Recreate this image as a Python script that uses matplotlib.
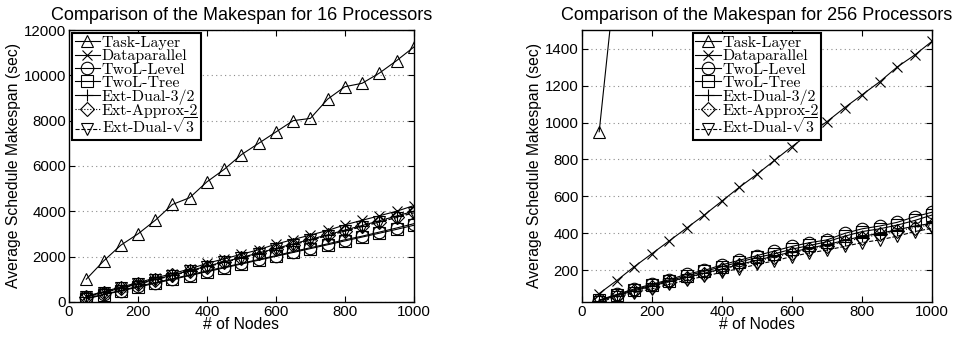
import numpy as np
import matplotlib
matplotlib.use('Agg')
import matplotlib.pyplot as plt

# number of nodes
nodes = [50, 100, 150, 200, 250, 300, 350, 400, 450, 500,
         550, 600, 650, 700, 750, 800, 850, 900, 950, 1000]

labels = ['Task-Layer', 'Dataparallel', 'TwoL-Level', 'TwoL-Tree',
          'Ext-Dual-3/2', 'Ext-Approx-2', r'Ext-Dual-$\sqrt{3}$']

# ===================== 16 processors =====================
task16 = [1000, 1800, 2500, 3000, 3600, 4300, 4600, 5300, 5850, 6500,
          7000, 7500, 8000, 8100, 8950, 9500, 9650, 10100, 10650, 11250]
dp16 = [250, 450, 650, 850, 1050, 1250, 1450, 1700, 1900, 2100,
        2300, 2550, 2750, 2950, 3150, 3400, 3600, 3800, 4000, 4250]
level16 = [150, 330, 500, 680, 850, 1020, 1190, 1370, 1530, 1700,
           1870, 2040, 2220, 2390, 2560, 2740, 2900, 3080, 3260, 3450]
tree16 = [130, 310, 480, 650, 820, 990, 1160, 1330, 1500, 1670,
          1840, 2010, 2180, 2350, 2520, 2690, 2860, 3030, 3200, 3380]
dual16 = [230, 420, 610, 800, 990, 1180, 1380, 1570, 1770, 1960,
          2160, 2360, 2560, 2760, 2960, 3170, 3370, 3580, 3790, 4000]
approx16 = [220, 410, 600, 790, 980, 1170, 1360, 1560, 1750, 1950,
            2140, 2340, 2530, 2730, 2930, 3130, 3330, 3540, 3740, 3950]
sqrt16 = [210, 400, 590, 780, 970, 1160, 1350, 1540, 1740, 1930,
          2130, 2320, 2520, 2720, 2920, 3120, 3320, 3520, 3720, 3930]

# ===================== 256 processors ====================
task256 = [950, 1850, 2750, 3600, 4500, 5350, 6250, 7100, 8000, 8850,
           9750, 10600, 11500, 12350, 13250, 14100, 15000, 15850, 16750, 17600]
dp256 = [75, 145, 220, 290, 360, 430, 500, 575, 650, 720,
         795, 870, 940, 1005, 1080, 1150, 1220, 1300, 1365, 1440]
level256 = [40, 70, 100, 125, 150, 180, 200, 230, 255, 280,
            305, 330, 350, 365, 400, 425, 440, 460, 490, 515]
tree256 = [38, 67, 95, 120, 145, 170, 195, 220, 245, 270,
           290, 315, 335, 355, 385, 410, 425, 445, 470, 500]
dual256 = [36, 63, 90, 115, 140, 162, 185, 208, 232, 255,
           278, 300, 320, 340, 362, 385, 400, 420, 440, 455]
approx256 = [35, 62, 88, 112, 137, 160, 182, 205, 228, 250,
             272, 294, 314, 334, 355, 376, 395, 413, 432, 448]
sqrt256 = [30, 55, 80, 100, 125, 148, 168, 190, 210, 232,
           252, 275, 295, 310, 330, 350, 365, 385, 410, 428]

styles = [('^', '-'), ('x', '-'), ('o', '-'), ('s', '-'),
          ('+', '-'), ('D', ':'), ('v', '--')]

matplotlib.rcParams['font.family'] = 'Liberation Sans'
matplotlib.rcParams['mathtext.fontset'] = 'cm'


def plot_panel(ax, series, title, ylim, yticks, legend_loc):
    for (mk, ls), lab, ys in zip(styles, labels, series):
        ms = {'D': 7, 'x': 7.5}.get(mk, 9)
        ax.plot(nodes, ys, color='k', ls=ls, lw=0.8, marker=mk, ms=ms,
                mfc='none', mec='k', mew=0.8, label=lab)
    ax.set_xlim(0, 1000)
    ax.set_ylim(*ylim)
    ax.set_xticks(range(0, 1001, 200))
    ax.set_yticks(yticks)
    ax.yaxis.grid(True, ls=(0, (1, 3)), color='0.55', lw=0.8)
    ax.tick_params(direction='in', top=True, right=True, labelsize=10.8,
                   length=4, pad=2)
    ax.set_xlabel('# of Nodes', fontsize=11.3, labelpad=-1)
    ax.set_ylabel('Average Schedule Makespan (sec)', fontsize=11.3, labelpad=2)
    ax.set_title(title, fontsize=13, pad=7)
    for sp in ax.spines.values():
        sp.set_linewidth(1.0)
    leg = ax.legend(loc=legend_loc, prop={'family': 'cmr10', 'size': 11.5},
                    labelspacing=-0.05, handlelength=1.6, handletextpad=0.1,
                    borderpad=0.15, borderaxespad=0.2, fancybox=False,
                    framealpha=1)
    leg.get_frame().set_edgecolor('k')
    leg.get_frame().set_linewidth(1.5)


fig = plt.figure(figsize=(9.63, 3.38), dpi=100)
ax1 = fig.add_axes([0.0717, 0.107, 0.358, 0.804])
ax2 = fig.add_axes([0.604, 0.107, 0.364, 0.804])

plot_panel(ax1, [task16, dp16, level16, tree16, dual16, approx16, sqrt16],
           'Comparison of the Makespan for 16 Processors',
           (0, 12000), range(0, 12001, 2000), 'upper left')
plot_panel(ax2, [task256, dp256, level256, tree256, dual256, approx256, sqrt256],
           'Comparison of the Makespan for 256 Processors',
           (30, 1500), range(200, 1401, 200), 'upper center')

fig.savefig('out.png', dpi=100)
